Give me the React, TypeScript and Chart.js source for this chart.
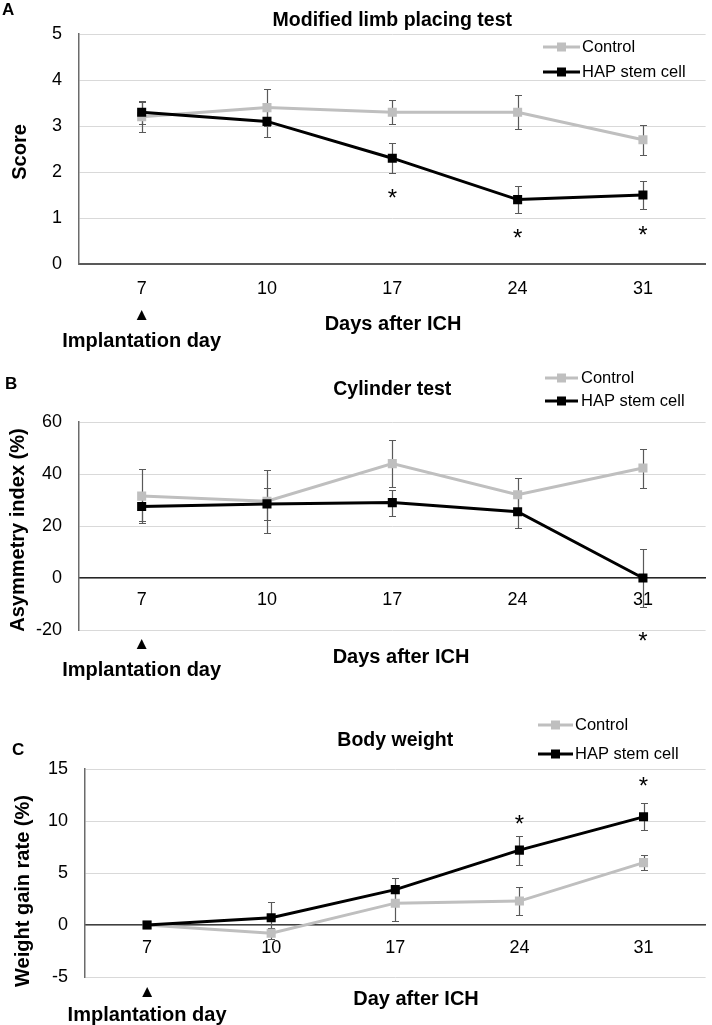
import React, { useEffect, useRef } from "react";
import { Chart, registerables } from "chart.js";

Chart.register(...registerables);

// ---------- data ----------
const days = ["7", "10", "17", "24", "31"];
const seriesNames = ["Control", "HAP stem cell"];

// A: Modified limb placing test
const limbControl = [3.2, 3.4, 3.3, 3.3, 2.7];
const limbControlErr = [0.32, 0.4, 0.26, 0.37, 0.33];
const limbHap = [3.3, 3.1, 2.3, 1.4, 1.5];
const limbHapErr = [0.25, 0.33, 0.33, 0.3, 0.31];
const limbStars = [null, null, 1.57, 0.7, 0.76];
const limbTicks = [0, 5, 1];

// B: Cylinder test
const cylControl = [31.5, 29.5, 44, 32, 42.3];
const cylControlErr = [10.5, 12, 9, 6.5, 7.5];
const cylHap = [27.5, 28.5, 29, 25.5, 0];
const cylHapErr = [5.5, 6, 5, 6.3, 11];
const cylStars = [null, null, null, null, -22];
const cylTicks = [-20, 60, 20];

// C: Body weight
const bwControl = [0, -0.8, 2.1, 2.3, 6.0];
const bwControlErr = [0, 0.5, 1.7, 1.35, 0.75];
const bwHap = [0, 0.7, 3.4, 7.2, 10.4];
const bwHapErr = [0, 1.55, 1.1, 1.4, 1.3];
const bwStars = [null, null, null, 10.3, 13.9];
const bwTicks = [-5, 15, 5];

// ---------- styling ----------
const FONT = '"Liberation Sans", Arial, Helvetica, sans-serif';
const GRAY = "#bfbfbf";
const BLACK = "#000000";
const ERR = "#595959";
const TXT = "#000000";

type Panel = {
  key: string;
  top: number;
  height: number;
  area: { left: number; right: number; top: number; bottom: number };
  xAtZero: boolean;
  xTickPad: number;
  xBorder: string;
  letter: string; letterX: number; letterY: number;
  title: string; titleY: number;
  yTitle: string; yTitleX: number; yTitleY: number;
  xTitle: string; xTitleX: number; xTitleY: number;
  triY: number; implY: number;
  legX0: number; legX1: number; legTextX: number; legY: number[];
  ticks: number[];
  control: number[]; controlErr: number[];
  hap: number[]; hapErr: number[];
  stars: (number | null)[];
};

const panels: Panel[] = [
  {
    key: "A", top: 0, height: 355,
    area: { left: 79, right: 710, top: 34, bottom: 264 },
    xAtZero: false, xTickPad: 14, xBorder: "#595959",
    letter: "A", letterX: 2, letterY: 10,
    title: "Modified limb placing test", titleY: 21,
    yTitle: "Score", yTitleX: 20, yTitleY: 152,
    xTitle: "Days after ICH", xTitleX: 393, xTitleY: 324,
    triY: 315, implY: 341,
    legX0: 543, legX1: 580, legTextX: 582, legY: [47, 72],
    ticks: limbTicks,
    control: limbControl, controlErr: limbControlErr,
    hap: limbHap, hapErr: limbHapErr, stars: limbStars,
  },
  {
    key: "B", top: 355, height: 335,
    area: { left: 79, right: 710, top: 67, bottom: 275 },
    xAtZero: true, xTickPad: 11, xBorder: "#262626",
    letter: "B", letterX: 5, letterY: 29,
    title: "Cylinder test", titleY: 35,
    yTitle: "Asymmetry index (%)", yTitleX: 18, yTitleY: 175,
    xTitle: "Days after ICH", xTitleX: 401, xTitleY: 302,
    triY: 289, implY: 315,
    legX0: 545, legX1: 578, legTextX: 581, legY: [23, 46],
    ticks: cylTicks,
    control: cylControl, controlErr: cylControlErr,
    hap: cylHap, hapErr: cylHapErr, stars: cylStars,
  },
  {
    key: "C", top: 690, height: 335,
    area: { left: 85, right: 710, top: 79, bottom: 287 },
    xAtZero: true, xTickPad: 12, xBorder: "#404040",
    letter: "C", letterX: 12, letterY: 60,
    title: "Body weight", titleY: 51,
    yTitle: "Weight gain rate (%)", yTitleX: 23, yTitleY: 201,
    xTitle: "Day after ICH", xTitleX: 416, xTitleY: 309,
    triY: 302, implY: 325,
    legX0: 538, legX1: 573, legTextX: 575, legY: [35, 64],
    ticks: bwTicks,
    control: bwControl, controlErr: bwControlErr,
    hap: bwHap, hapErr: bwHapErr, stars: bwStars,
  },
];

function txt(ctx: CanvasRenderingContext2D, s: string, x: number, y: number, size: number, bold: boolean, align: CanvasTextAlign = "center", rot = 0) {
  ctx.save();
  ctx.font = `${bold ? "bold " : ""}${size}px ${FONT}`;
  ctx.fillStyle = TXT;
  ctx.textAlign = align;
  ctx.textBaseline = "middle";
  ctx.translate(x, y);
  if (rot) ctx.rotate(rot);
  ctx.fillText(s, 0, 0);
  ctx.restore();
}

function makePlugin(p: Panel) {
  return {
    id: "decor" + p.key,
    beforeDatasetsDraw(chart: any) {
      const ctx: CanvasRenderingContext2D = chart.ctx;
      const ys = chart.scales.y;
      const errs = [p.controlErr, p.hapErr];
      const vals = [p.control, p.hap];
      ctx.save();
      ctx.strokeStyle = ERR;
      ctx.lineWidth = 1.2;
      [0, 1].forEach((di) => {
        const meta = chart.getDatasetMeta(di);
        meta.data.forEach((pt: any, i: number) => {
          const e = errs[di][i];
          if (!e) return;
          const v = vals[di][i];
          const yt = Math.round(ys.getPixelForValue(v + e)) + 0.5;
          const yb = Math.round(ys.getPixelForValue(v - e)) + 0.5;
          const x = Math.round(pt.x) + 0.5;
          ctx.beginPath();
          ctx.moveTo(x, yt); ctx.lineTo(x, yb);
          ctx.moveTo(x - 3.5, yt); ctx.lineTo(x + 3.5, yt);
          ctx.moveTo(x - 3.5, yb); ctx.lineTo(x + 3.5, yb);
          ctx.stroke();
        });
      });
      ctx.restore();
    },
    afterDraw(chart: any) {
      const ctx: CanvasRenderingContext2D = chart.ctx;
      const xs = chart.scales.x;
      const ys = chart.scales.y;
      const ca = chart.chartArea;
      const cx = (ca.left + ca.right) / 2;
      // panel letter and title
      txt(ctx, p.letter, p.letterX, p.letterY, 17, true, "left");
      txt(ctx, p.title, cx, p.titleY, 19.5, true);
      // axis titles
      txt(ctx, p.yTitle, p.yTitleX, p.yTitleY, 20, true, "center", -Math.PI / 2);
      txt(ctx, p.xTitle, p.xTitleX, p.xTitleY, 20, true);
      // implantation marker under first category
      const x7 = xs.getPixelForValue(0);
      txt(ctx, "▲", x7, p.triY, 17, false);
      txt(ctx, "Implantation day", x7, p.implY, 20, true);
      // legend
      const colors = [GRAY, BLACK];
      seriesNames.forEach((name, i) => {
        const ly = p.legY[i];
        ctx.save();
        ctx.strokeStyle = colors[i];
        ctx.lineWidth = 3;
        ctx.beginPath();
        ctx.moveTo(p.legX0, ly);
        ctx.lineTo(p.legX1, ly);
        ctx.stroke();
        ctx.fillStyle = colors[i];
        const mx = (p.legX0 + p.legX1) / 2;
        ctx.fillRect(mx - 4.5, ly - 4.5, 9, 9);
        ctx.restore();
        txt(ctx, name, p.legTextX, ly, 16.5, false, "left");
      });
      // significance stars
      ctx.save();
      ctx.font = `24px ${FONT}`;
      ctx.fillStyle = TXT;
      ctx.textAlign = "center";
      ctx.textBaseline = "alphabetic";
      p.stars.forEach((s, i) => {
        if (s === null) return;
        const x = xs.getPixelForValue(i);
        const y = ys.getPixelForValue(s);
        ctx.fillText("*", x, y + 14);
      });
      ctx.restore();
    },
  };
}

function PanelChart({ p }: { p: Panel }) {
  const ref = useRef<HTMLCanvasElement | null>(null);
  useEffect(() => {
    const canvas = ref.current;
    if (!canvas) return;
    const [yMin, yMax, yStep] = p.ticks;
    const chart = new Chart(canvas, {
      type: "line",
      data: {
        labels: days,
        datasets: [
          {
            label: seriesNames[0],
            data: p.control,
            borderColor: GRAY,
            backgroundColor: GRAY,
            borderWidth: 3,
            pointStyle: "rect",
            pointRadius: 6.4,
            pointBorderWidth: 0,
            pointBackgroundColor: GRAY,
            tension: 0,
            order: 2,
          },
          {
            label: seriesNames[1],
            data: p.hap,
            borderColor: BLACK,
            backgroundColor: BLACK,
            borderWidth: 3,
            pointStyle: "rect",
            pointRadius: 6.4,
            pointBorderWidth: 0,
            pointBackgroundColor: BLACK,
            tension: 0,
            order: 1,
          },
        ],
      },
      options: {
        responsive: false,
        animation: false,
        devicePixelRatio: 1,
        events: [],
        layout: {
          padding: {
            top: p.area.top,
            right: 712 - p.area.right,
            bottom: p.xAtZero ? p.height - p.area.bottom : 0,
            left: 0,
          },
        },
        plugins: {
          legend: { display: false },
          tooltip: { enabled: false },
          title: { display: false },
        },
        scales: {
          x: {
            type: "category",
            offset: true,
            position: p.xAtZero ? { y: 0 } : "bottom",
            grid: { display: false, drawTicks: false },
            border: { display: true, color: p.xBorder, width: p.xAtZero ? 1.5 : 2 },
            ticks: {
              color: TXT,
              font: { family: FONT, size: 18 },
              padding: p.xTickPad,
              maxRotation: 0,
              autoSkip: false,
            },
            afterFit: p.xAtZero
              ? undefined
              : (s: any) => {
                  s.height = p.height - p.area.bottom;
                },
          },
          y: {
            min: yMin,
            max: yMax,
            grid: { color: "#d9d9d9", lineWidth: 1, drawTicks: false },
            border: { display: true, color: "#6b6b6b", width: 1.5 },
            ticks: {
              stepSize: yStep,
              color: TXT,
              font: { family: FONT, size: 18 },
              padding: 17,
            },
            afterFit: (s: any) => {
              s.width = p.area.left;
            },
          },
        },
      } as any,
      plugins: [makePlugin(p)],
    });
    return () => chart.destroy();
  }, [p]);
  return (
    <canvas
      ref={ref}
      width={712}
      height={p.height}
      style={{ position: "absolute", left: 0, top: p.top, width: 712, height: p.height, display: "block" }}
    />
  );
}

export default function App() {
  return (
    <div style={{ position: "absolute", left: 0, top: 0, width: 712, height: 1025, background: "#ffffff", overflow: "hidden" }}>
      {panels.map((p) => (
        <PanelChart key={p.key} p={p} />
      ))}
    </div>
  );
}
